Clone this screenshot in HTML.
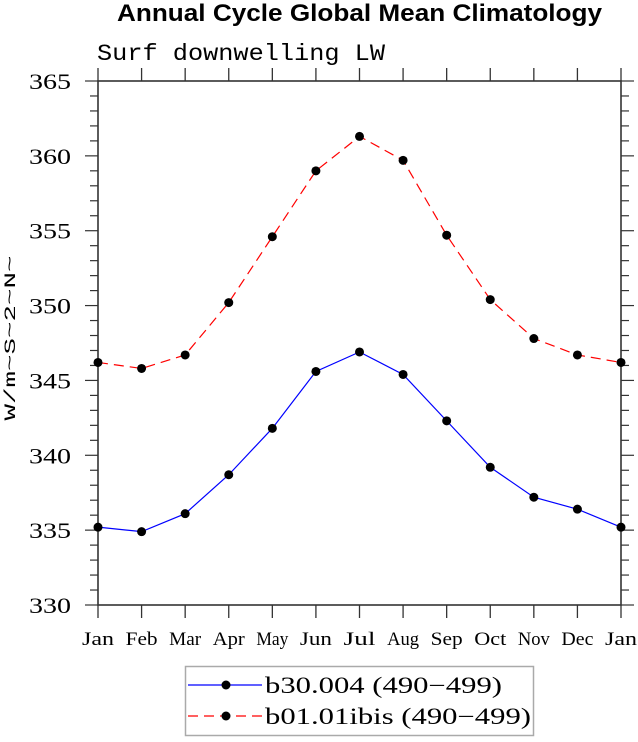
<!DOCTYPE html>
<html><head><meta charset="utf-8"><style>
body{margin:0;background:#fff;width:638px;height:737px;overflow:hidden}
svg text{fill:#000}
</style></head><body>
<svg id="c" width="638" height="737" xmlns="http://www.w3.org/2000/svg">
<text x="117" y="21" textLength="485" lengthAdjust="spacingAndGlyphs" font-family="Liberation Sans, sans-serif" font-weight="bold" font-size="24">Annual Cycle Global Mean Climatology</text>
<text x="97" y="60" textLength="288" lengthAdjust="spacingAndGlyphs" font-family="Liberation Mono, monospace" font-size="23" fill="#333">Surf downwelling LW</text>
<text transform="translate(15,338) rotate(-90)" text-anchor="middle" textLength="165" lengthAdjust="spacingAndGlyphs" font-family="Liberation Mono, monospace" font-size="16">W/m~S~2~N~</text>
<g id="axes"></g><g id="series"></g>
<g>
<rect x="185.5" y="666.5" width="348" height="69" fill="#fff" stroke="#aaa" stroke-width="1.5"/>
<g>
<line x1="188" y1="685" x2="262" y2="685" stroke="#0000ff" stroke-width="1.2"/>
<circle cx="226" cy="685" r="4.5" fill="#000"/>
<text x="265" y="693" textLength="237" lengthAdjust="spacingAndGlyphs" font-family="Liberation Serif, serif" font-size="23" fill="#333">b30.004 (490−499)</text></g>
<g>
<line x1="188" y1="716" x2="262" y2="716" stroke="#ff0000" stroke-width="1.2" stroke-dasharray="10,6"/>
<circle cx="226" cy="716" r="4.5" fill="#000"/>
<text x="265" y="724" textLength="266" lengthAdjust="spacingAndGlyphs" font-family="Liberation Serif, serif" font-size="23" fill="#333">b01.01ibis (490−499)</text></g>
</g>
</svg>
<script>
const months=["Jan","Feb","Mar","Apr","May","Jun","Jul","Aug","Sep","Oct","Nov","Dec","Jan"];
const yTicks=[330,335,340,345,350,355,360,365];
const seriesB30=[335.2,334.9,336.1,338.7,341.8,345.6,346.9,345.4,342.3,339.2,337.2,336.4,335.2];
const seriesB01=[346.2,345.8,346.7,350.2,354.6,359.0,361.3,359.7,354.7,350.4,347.8,346.7,346.2];
const L=98,R=621,T=81,B=605,ymin=330,ymax=365;
const xs=i=>L+(R-L)*i/(months.length-1);
const ys=v=>B-(B-T)*(v-ymin)/(ymax-ymin);
const NS="http://www.w3.org/2000/svg";
function mk(tag,parent,at){const e=document.createElementNS(NS,tag);for(const k in at)e.setAttribute(k,at[k]);parent.appendChild(e);return e;}
const ax=document.getElementById('axes');
const frame=mk('rect',ax,{x:L,y:T,width:R-L,height:B-T,fill:'none',stroke:'#333','stroke-width':1.6});


months.forEach((m,i)=>{const x=xs(i);
mk('line',ax,{x1:x,y1:B,x2:x,y2:B+13,stroke:'#333','stroke-width':1.3});
mk('line',ax,{x1:x,y1:T,x2:x,y2:T-13,stroke:'#333','stroke-width':1.3});
const t=mk('text',ax,{x:x-16,y:B+40,textLength:32,lengthAdjust:'spacingAndGlyphs','font-family':'Liberation Serif, serif','font-size':19,fill:'#333'});
t.textContent=m;

});
for(let v=ymin;v<=ymax;v++){const y=ys(v);const maj=(v%5===0);const len=maj?13:8;
mk('line',ax,{x1:L-len,y1:y,x2:L,y2:y,stroke:'#333','stroke-width':1.2});
mk('line',ax,{x1:R,y1:y,x2:R+len,y2:y,stroke:'#333','stroke-width':1.2});}
yTicks.forEach(v=>{const t=mk('text',ax,{x:29,y:ys(v)+8,textLength:42,lengthAdjust:'spacingAndGlyphs','font-family':'Liberation Serif, serif','font-size':22,fill:'#333'});
t.textContent=v;

});
const sg=document.getElementById('series');
function draw(vals,color,dash,name){const g=mk('g',sg,{});


const p=mk('polyline',g,{points:vals.map((v,i)=>xs(i)+','+ys(v)).join(' '),fill:'none',stroke:color,'stroke-width':1.2});
if(dash)p.setAttribute('stroke-dasharray','10,6');
vals.forEach((v,i)=>{const c=mk('circle',g,{cx:xs(i),cy:ys(v),r:4.5,fill:'#000'});

});}
draw(seriesB30,'#0000ff',false,'series-b30');
draw(seriesB01,'#ff0000',true,'series-b01');
</script>
</body></html>
